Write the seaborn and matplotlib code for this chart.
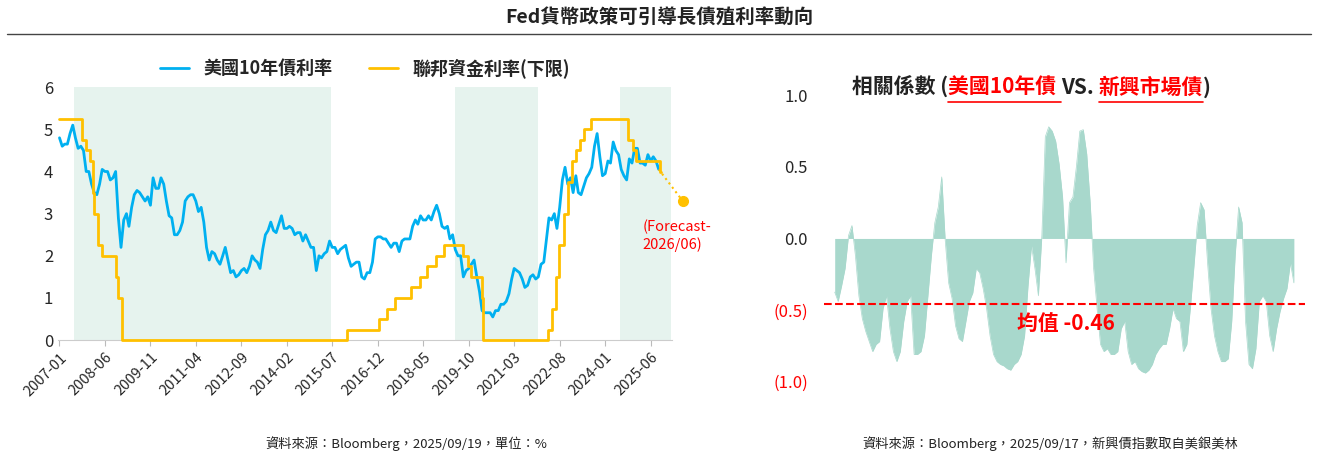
import numpy as np
import pandas as pd
import seaborn as sns
import matplotlib.pyplot as plt
import matplotlib.dates as mdates

sns.set_style("white")
plt.rcParams['font.family'] = ['Noto Sans CJK TC', 'DejaVu Sans']

# US 10Y yield, month-end, 2007-01 .. 2025-09
ust10 = [
    4.8, 4.6, 4.65, 4.65, 4.9, 5.1, 4.8, 4.55, 4.6, 4.5, 4.0, 4.0,
    3.7, 3.5, 3.45, 3.7, 4.05, 4.0, 4.0, 3.8, 3.85, 4.0, 2.9, 2.2,
    2.85, 3.0, 2.7, 3.15, 3.45, 3.55, 3.5, 3.4, 3.3, 3.4, 3.2, 3.85,
    3.6, 3.6, 3.85, 3.7, 3.3, 2.95, 2.9, 2.5, 2.5, 2.6, 2.8, 3.3,
    3.4, 3.45, 3.45, 3.3, 3.05, 3.15, 2.8, 2.2, 1.9, 2.1, 2.05, 1.9,
    1.8, 2.0, 2.2, 1.9, 1.6, 1.65, 1.5, 1.55, 1.65, 1.7, 1.6, 1.75,
    2.0, 1.9, 1.85, 1.7, 2.15, 2.5, 2.6, 2.8, 2.6, 2.55, 2.75, 2.95,
    2.65, 2.65, 2.7, 2.65, 2.5, 2.55, 2.55, 2.35, 2.5, 2.35, 2.2, 2.2,
    1.65, 2.0, 1.95, 2.05, 2.1, 2.35, 2.2, 2.2, 2.05, 2.15, 2.2, 2.25,
    1.95, 1.75, 1.8, 1.85, 1.85, 1.5, 1.45, 1.6, 1.6, 1.85, 2.4, 2.45,
    2.45, 2.4, 2.4, 2.3, 2.2, 2.3, 2.3, 2.1, 2.35, 2.4, 2.4, 2.4,
    2.7, 2.85, 2.75, 2.95, 2.85, 2.85, 2.95, 2.85, 3.05, 3.2, 3.0, 2.7,
    2.65, 2.7, 2.4, 2.5, 2.15, 2.0, 2.0, 1.5, 1.65, 1.7, 1.8, 1.9,
    1.5, 1.15, 0.7, 0.65, 0.65, 0.65, 0.55, 0.7, 0.7, 0.85, 0.85, 0.92,
    1.1, 1.45, 1.7, 1.65, 1.6, 1.45, 1.25, 1.3, 1.5, 1.55, 1.45, 1.5,
    1.8, 1.85, 2.35, 2.9, 2.85, 3.0, 2.65, 3.15, 3.8, 4.1, 3.7, 3.85,
    3.5, 3.9, 3.5, 3.45, 3.65, 3.85, 3.95, 4.1, 4.6, 4.9, 4.35, 3.9,
    3.95, 4.25, 4.2, 4.7, 4.5, 4.4, 4.05, 3.9, 3.8, 4.3, 4.2, 4.55,
    4.55, 4.2, 4.2, 4.15, 4.4, 4.25, 4.35, 4.25, 4.05,
]
ust_dates = pd.date_range("2007-01-01", periods=len(ust10), freq="MS")

# Fed funds target lower bound, change dates
ff_dates = pd.to_datetime([
    "2007-01-01", "2007-09-18", "2007-10-31", "2007-12-11", "2008-01-22", "2008-01-30",
    "2008-03-18", "2008-04-30", "2008-10-08", "2008-10-29", "2008-12-16",
    "2015-12-16", "2016-12-14", "2017-03-15", "2017-06-14", "2017-12-13",
    "2018-03-21", "2018-06-13", "2018-09-26", "2018-12-19", "2019-07-31",
    "2019-09-18", "2019-10-30", "2020-03-03", "2020-03-15", "2022-03-16",
    "2022-05-04", "2022-06-15", "2022-07-27", "2022-09-21", "2022-11-02",
    "2022-12-14", "2023-02-01", "2023-03-22", "2023-05-03", "2023-07-26",
    "2024-09-18", "2024-11-07", "2024-12-18", "2025-09-17", "2025-09-30",
])
ff_lower = [5.25, 4.75, 4.5, 4.25, 3.5, 3.0, 2.25, 2.0, 1.5, 1.0, 0.0,
            0.25, 0.5, 0.75, 1.0, 1.25, 1.5, 1.75, 2.0, 2.25, 2.0,
            1.75, 1.5, 1.0, 0.0, 0.25, 0.75, 1.5, 2.25, 3.0, 3.75,
            4.25, 4.5, 4.75, 5.0, 5.25, 4.75, 4.5, 4.25, 4.0, 4.0]

forecast_date = pd.Timestamp("2026-06-01")
forecast_val = 3.3

shade_spans = [("2007-06-10", "2015-06-15"), ("2019-05-01", "2021-12-01"), ("2024-06-20", "2026-01-20")]
tick_dates = pd.date_range("2007-01-01", "2025-06-01", freq="17MS")

# rolling correlation (US 10Y vs EM bonds)
corr = [-0.375, -0.44, -0.33, -0.21, 0.02, 0.09, -0.12, -0.40, -0.56, -0.65,
        -0.72, -0.79, -0.74, -0.72, -0.49, -0.40, -0.63, -0.79, -0.86, -0.79,
        -0.58, -0.44, -0.40, -0.81, -0.81, -0.79, -0.68, -0.40, -0.12, 0.11,
        0.22, 0.43, -0.01, -0.31, -0.42, -0.61, -0.70, -0.72, -0.58, -0.44,
        -0.38, -0.21, -0.24, -0.35, -0.49, -0.68, -0.81, -0.86, -0.88, -0.89,
        -0.91, -0.92, -0.88, -0.86, -0.81, -0.68, -0.33, -0.05, -0.21, -0.40,
        0.02, 0.71, 0.78, 0.75, 0.68, 0.52, 0.29, -0.17, 0.25, 0.29,
        0.50, 0.75, 0.76, 0.59, 0.25, -0.21, -0.49, -0.74, -0.79, -0.77,
        -0.81, -0.81, -0.79, -0.63, -0.58, -0.79, -0.88, -0.86, -0.91, -0.93,
        -0.94, -0.92, -0.88, -0.81, -0.77, -0.74, -0.74, -0.63, -0.49, -0.56,
        -0.58, -0.79, -0.74, -0.49, -0.21, 0.09, 0.25, 0.20, -0.17, -0.49,
        -0.68, -0.79, -0.86, -0.86, -0.84, -0.58, -0.12, 0.22, 0.11, -0.58,
        -0.88, -0.91, -0.77, -0.44, -0.40, -0.44, -0.68, -0.79, -0.63, -0.51,
        -0.42, -0.35, -0.17, -0.31]
corr_mean = -0.46

BLUE = "#00b0f0"
GOLD = "#ffc000"
SHADE = "#e6f3ee"
FILL = "#a8d8cc"
RED = "#ff0000"

fig = plt.figure(figsize=(13.18, 4.59), dpi=100)
fig.text(0.5, 0.962, "Fed貨幣政策可引導長債殖利率動向", ha="center", va="center", fontsize=14,
         fontweight="bold", color="#222222")
fig.add_artist(plt.Line2D([0.005, 0.995], [0.925, 0.925], color="#444444", lw=1))

# ---- left panel
ax = fig.add_axes([0.044, 0.259, 0.466, 0.551])
for s, e in shade_spans:
    ax.axvspan(pd.Timestamp(s), pd.Timestamp(e), color=SHADE, lw=0, zorder=0)
sns.lineplot(x=ust_dates, y=ust10, ax=ax, color=BLUE, lw=2, label="美國10年債利率")
sns.lineplot(x=ff_dates, y=ff_lower, ax=ax, color=GOLD, lw=2, drawstyle="steps-post",
             label="聯邦資金利率(下限)", clip_on=False, zorder=3)
ax.plot([ust_dates[-1], forecast_date], [ust10[-1], forecast_val], ls=":", color=GOLD, lw=1.5, clip_on=False)
ax.plot([forecast_date], [forecast_val], "o", color=GOLD, ms=7, clip_on=False)
ax.text(pd.Timestamp("2025-03-01"), 2.85, "(Forecast-\n2026/06)", color=RED, fontsize=10.5,
        ha="left", va="top", linespacing=1.2)
ax.set_ylim(0, 6)
ax.set_xlim(pd.Timestamp("2006-12-15"), pd.Timestamp("2026-02-01"))
ax.set_xticks(tick_dates)
ax.xaxis.set_major_formatter(mdates.DateFormatter("%Y-%m"))
ax.set_xlabel("")
ax.set_ylabel("")
plt.setp(ax.get_xticklabels(), rotation=45, ha="right", rotation_mode="anchor", fontsize=10.5)
ax.tick_params(axis="y", labelsize=12, length=0)
ax.tick_params(axis="x", length=4, color="#bbbbbb", direction="out", bottom=True)
for sp in ["top", "right", "left"]:
    ax.spines[sp].set_visible(False)
ax.spines["bottom"].set_color("#cccccc")
ax.spines["bottom"].set_zorder(1)
leg = ax.legend(loc="lower center", bbox_to_anchor=(0.5, 1.0), ncol=2, frameon=False, fontsize=13,
                handlelength=1.6, columnspacing=2.0, borderaxespad=0.1)
for t in leg.get_texts():
    t.set_fontweight("bold")

# ---- right panel
ax2 = fig.add_axes([0.632, 0.153, 0.351, 0.655])
xs = np.arange(len(corr))
sns.lineplot(x=xs, y=corr, ax=ax2, color=FILL, lw=0.5)
ax2.fill_between(xs, corr, 0, color=FILL, lw=0)
ax2.axhline(corr_mean, color=RED, ls="--", lw=1.5, xmin=-0.02, xmax=1.02, clip_on=False)
ax2.text(len(corr) * 0.5, -0.52, "均值 -0.46", color=RED, fontsize=15, fontweight="bold", ha="center", va="top")
ax2.set_xlim(-0.5, len(corr) - 0.5)
ax2.set_ylim(-1.05, 1.05)
ax2.set_yticks([1.0, 0.5, 0.0, -0.5, -1.0])
ax2.set_yticklabels(["1.0", "0.5", "0.0", "(0.5)", "(1.0)"], fontsize=12)
for lbl in ax2.get_yticklabels()[3:]:
    lbl.set_color(RED)
ax2.tick_params(axis="y", length=0, pad=18)
ax2.set_xticks([])
sns.despine(ax=ax2, left=True, bottom=True)

# mixed-colour title
parts = [("相關係數 (", "#222222", False), ("美國10年債 ", RED, True), ("VS. ", "#222222", False),
         ("新興市場債", RED, True), (")", "#222222", False)]
fig.canvas.draw()
r = fig.canvas.get_renderer()
x0 = 852 / 1318
y0 = 1 - 87 / 459
for txt, col, ul in parts:
    t = fig.text(x0, y0, txt, color=col, fontsize=15, fontweight="bold", va="center", ha="left")
    bb = t.get_window_extent(r)
    w = bb.width / fig.bbox.width
    if ul:
        fig.add_artist(plt.Line2D([x0, x0 + w], [y0 - 0.033, y0 - 0.033], color=RED, lw=1.2))
    x0 += w

fig.text(0.308, 0.023, "資料來源：Bloomberg，2025/09/19，單位：%", ha="center", fontsize=9.5, color="#222222")
fig.text(0.797, 0.023, "資料來源：Bloomberg，2025/09/17，新興債指數取自美銀美林", ha="center", fontsize=9.5, color="#222222")

fig.savefig("out.png", dpi=100)
